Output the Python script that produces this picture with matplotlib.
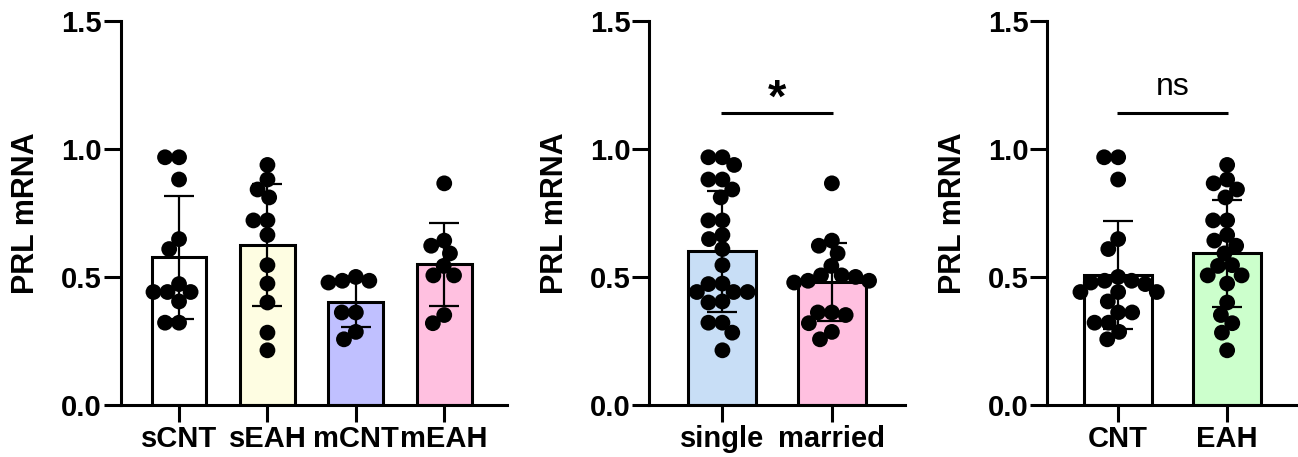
import numpy as np
import matplotlib
matplotlib.use("Agg")
import matplotlib.pyplot as plt

plt.rcParams['font.family'] = ['Liberation Sans', 'DejaVu Sans']

# PRL mRNA expression per animal
sCNT = [0.967, 0.967, 0.880, 0.647, 0.608, 0.471, 0.440, 0.440, 0.440, 0.403, 0.320, 0.320]
sEAH = [0.937, 0.880, 0.841, 0.810, 0.720, 0.720, 0.663, 0.545, 0.473, 0.399, 0.281, 0.212]
mCNT = [0.499, 0.484, 0.484, 0.477, 0.360, 0.360, 0.284, 0.255]
mEAH = [0.865, 0.641, 0.621, 0.591, 0.542, 0.505, 0.505, 0.350, 0.318]

group_labels = ["sCNT", "sEAH", "mCNT", "mEAH"]
marital_labels = ["single", "married"]
treat_labels = ["CNT", "EAH"]

group_colors = ["#FFFFFF", "#FEFDE2", "#C0C0FF", "#FFC0E0"]
marital_colors = ["#C8DEF6", "#FFC0E0"]
treat_colors = ["#FFFFFF", "#CCFFCC"]

single = sCNT + sEAH
married = mCNT + mEAH
CNT = sCNT + mCNT
EAH = sEAH + mEAH

W, H, DPI = 1298, 457, 100
fig = plt.figure(figsize=(W / DPI, H / DPI), dpi=DPI)

bottom = 1 - 404.5 / H
top = 1 - 21 / H

LW = 2.2
DOT_PX = 15.8
SPACING_PX = 14.0   # dots may overlap slightly, as in a dense scatter
TICK_FS = 21
LABEL_FS = 22


def swarm_offsets(ax, x0, values, diam_px):
    """Beeswarm placement: smallest horizontal shift that avoids overlaps."""
    trans = ax.transData
    px_per_unit = trans.transform((1, 0))[0] - trans.transform((0, 0))[0]
    order = np.argsort(values)[::-1]
    placed = []
    offs = np.zeros(len(values))
    for i in order:
        py = trans.transform((x0, values[i]))[1]
        cands = [0.0]
        for (qx, qy) in placed:
            dy = abs(py - qy)
            if dy < diam_px:
                dx = np.sqrt(diam_px ** 2 - dy ** 2) + 0.01
                cands += [qx + dx, qx - dx]
        cands = sorted(cands, key=lambda c: (abs(c), c))
        for c in cands:
            ok = all((c - qx) ** 2 + (py - qy) ** 2 >= diam_px ** 2 - 0.05
                     for (qx, qy) in placed)
            if ok:
                placed.append((c, py))
                offs[i] = c / px_per_unit
                break
    return offs


def panel(left_px, right_px, xlim, labels, groups, colors):
    ax = fig.add_axes([left_px / W, bottom, (right_px - left_px) / W, top - bottom])
    ax.set_xlim(*xlim)
    ax.set_ylim(0, 1.5)
    for s in ("top", "right"):
        ax.spines[s].set_visible(False)
    for s in ("left", "bottom"):
        ax.spines[s].set_linewidth(LW)
    ax.set_yticks([0.0, 0.5, 1.0, 1.5])
    ax.set_yticklabels(["0.0", "0.5", "1.0", "1.5"])
    ax.set_xticks(range(len(labels)))
    ax.set_xticklabels(labels)
    ax.tick_params(axis="both", length=12, width=LW, labelsize=TICK_FS)
    ax.tick_params(axis="y", pad=1.5)
    ax.tick_params(axis="x", pad=3)
    for t in ax.get_xticklabels() + ax.get_yticklabels():
        t.set_fontweight("bold")

    for i, (vals, col) in enumerate(zip(groups, colors)):
        v = np.asarray(vals)
        m, sd = v.mean(), v.std(ddof=1)
        ax.bar(i, m, width=0.62, color=col, edgecolor="black", linewidth=LW, zorder=2)
        offs = swarm_offsets(ax, i, v, SPACING_PX)
        ax.scatter(i + offs, v, s=(DOT_PX * 0.72) ** 2, color="black",
                   edgecolors="none", zorder=3)
        ax.errorbar(i, m, yerr=sd, fmt="none", ecolor="black", elinewidth=1.6,
                    capsize=11, capthick=1.6, zorder=4)

    fig.text((left_px - 94.7) / W, 1 - 213 / H, "PRL mRNA", rotation=90,
             ha="center", va="center", fontsize=LABEL_FS, fontweight="bold")
    return ax


ax1 = panel(120.7, 507, (-0.66, 3.71), group_labels,
            [sCNT, sEAH, mCNT, mEAH], group_colors)
ax2 = panel(649.3, 905, (-0.668, 1.668), marital_labels,
            [single, married], marital_colors)
ax3 = panel(1047.3, 1298, (-0.65, 1.65), treat_labels,
            [CNT, EAH], treat_colors)

# significance brackets
for ax, txt, fs, wt, base in ((ax2, "*", 34, "bold", 1.145), (ax3, "ns", 23, "normal", 1.21)):
    ax.plot([-0.01, 1.01], [1.139, 1.139], color="black", lw=LW,
            clip_on=False, solid_capstyle="butt")
    ax.text(0.5, base, txt, ha="center", va="baseline", fontsize=fs,
            fontweight=wt, clip_on=False)

fig.savefig("out.png", dpi=DPI)
